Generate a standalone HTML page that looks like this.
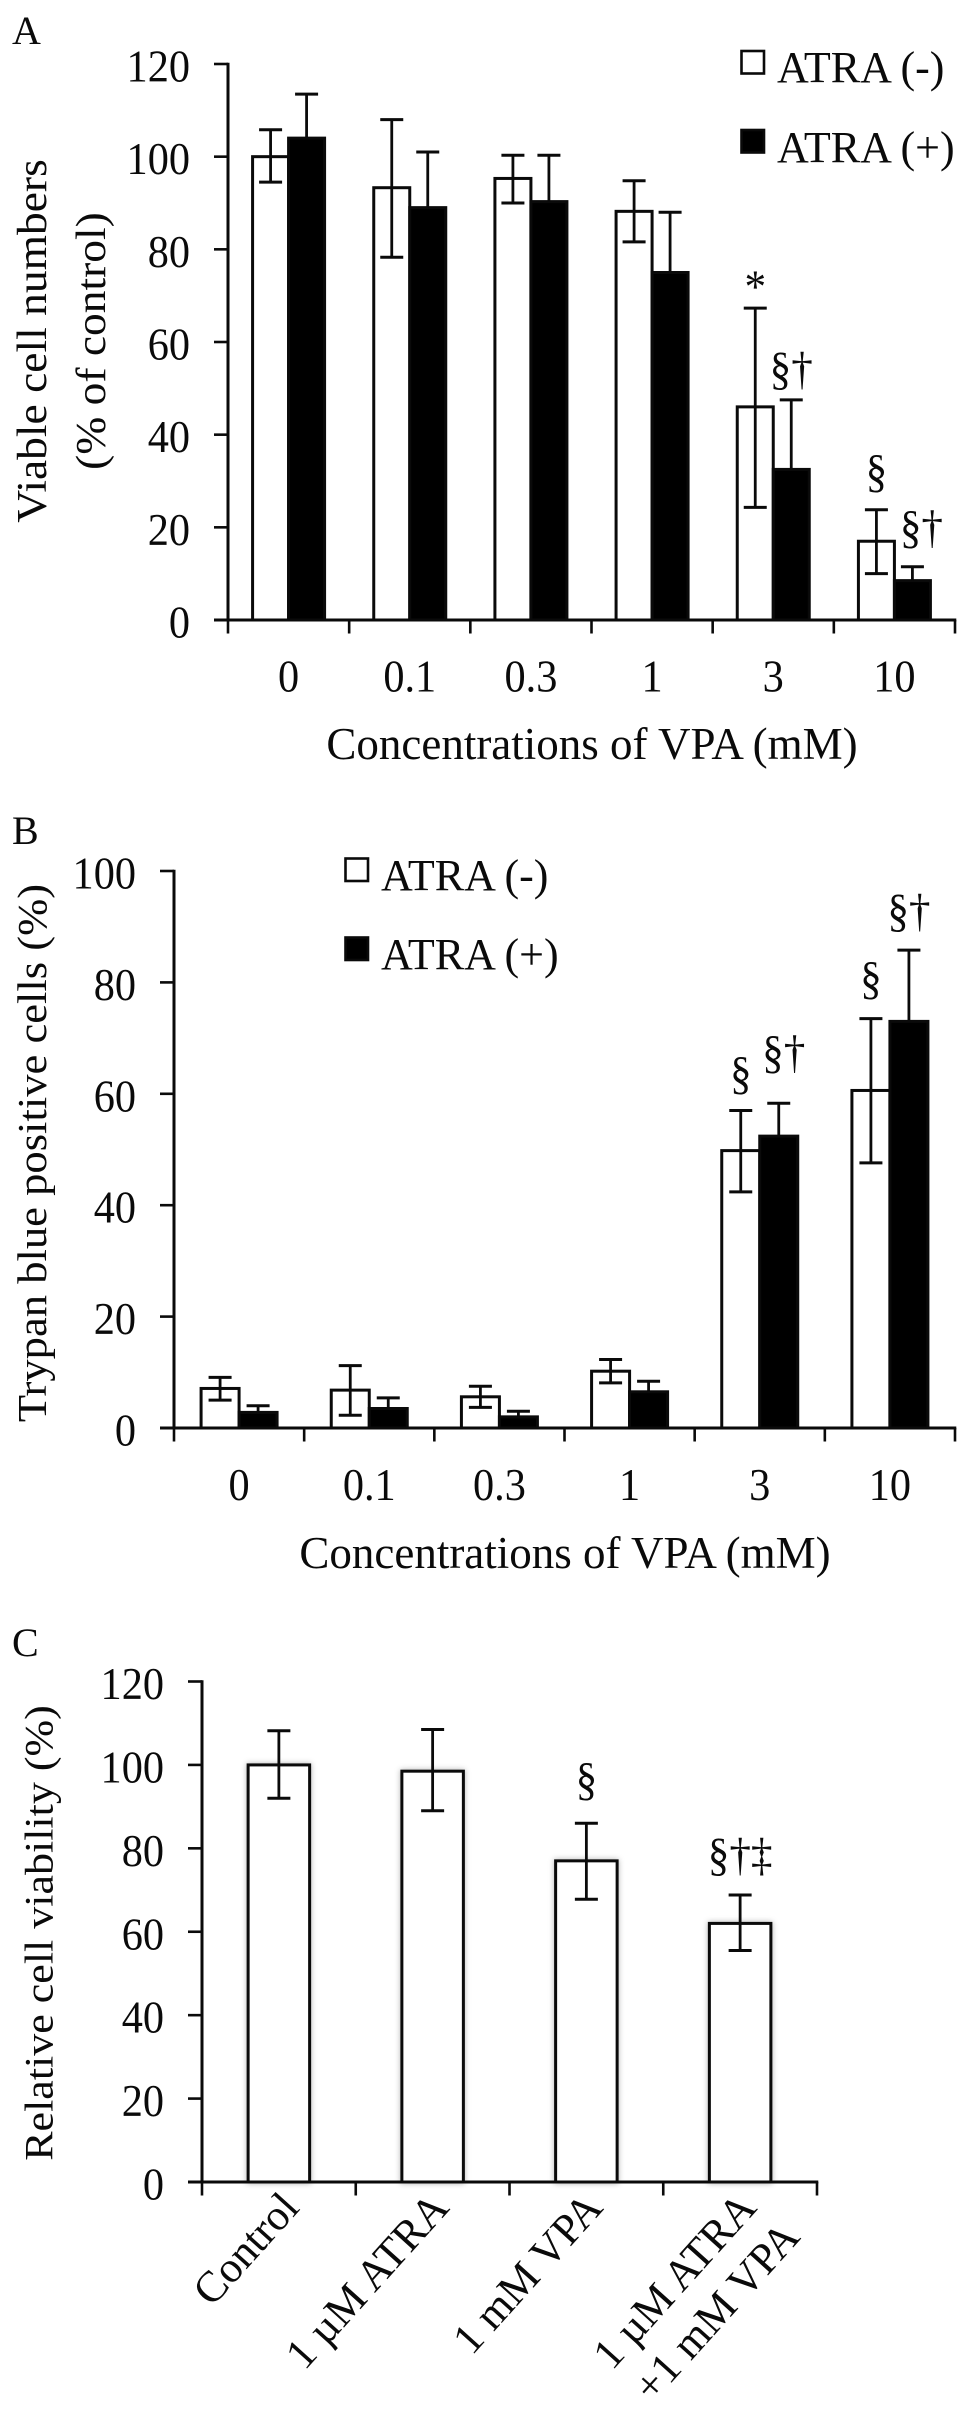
<!DOCTYPE html>
<html><head><meta charset="utf-8"><title>VPA and ATRA cell viability</title>
<style>
html,body{margin:0;padding:0;background:#fff}
svg{display:block;filter:blur(0.35px)}
text{font-family:"Liberation Serif","Times New Roman",serif;fill:#0a0a0a}
</style></head>
<body>
<svg id="fig" width="969" height="2411" viewBox="0 0 969 2411" xmlns="http://www.w3.org/2000/svg"></svg>
<script>
// Panel A data
const concCategories = ["0","0.1","0.3","1","3","10"];
const aTicks = [0,20,40,60,80,100,120];
const aWhite = [100,93.3,95.3,88.2,46,17];
const aWhiteUp = [105.8,108,100.3,94.8,67.3,23.8];
const aWhiteDown = [94.5,78.3,90,81.6,24.3,10];
const aBlack = [104,89,90.3,75,32.5,8.5];
const aBlackUp = [113.5,101,100.3,88,47.5,11.5];
const aWhiteMarks = ["","","","","*","§"];
const aBlackMarks = ["","","","","§†","§†"];
// Panel B data
const bTicks = [0,20,40,60,80,100];
const bWhite = [7.1,6.8,5.6,10.2,49.8,60.6];
const bWhiteUp = [9.1,11.2,7.5,12.3,57,73.5];
const bWhiteDown = [5,2.3,3.7,8.1,42.4,47.6];
const bBlack = [2.8,3.5,2,6.5,52.4,73];
const bBlackUp = [4,5.4,3,8.4,58.3,85.8];
const bWhiteMarks = ["","","","","§","§"];
const bBlackMarks = ["","","","","§†","§†"];
// Panel C data
const cCategories = [["Control"],["1 µM ATRA"],["1 mM VPA"],["1 µM ATRA","+1 mM VPA"]];
const cTicks = [0,20,40,60,80,100,120];
const cValues = [100,98.5,77,62];
const cUp = [108.2,108.5,86,68.8];
const cDown = [92,89,67.8,55.5];
const cMarks = ["","","§","§†‡"];

const NS = "http://www.w3.org/2000/svg";
const root = document.getElementById("fig");
const NARROW = 0.92;
function el(parent, tag, attrs, txt){
  const e = document.createElementNS(NS, tag);
  for (const k in attrs) e.setAttribute(k, attrs[k]);
  if (txt !== undefined) e.textContent = txt;
  parent.appendChild(e);
  return e;
}
function line(p,x1,y1,x2,y2,w,name){
  const l = el(p,"line",{x1,y1,x2,y2,stroke:"#0a0a0a","stroke-width":w});
  
  
  return l;
}
function txt(p,x,y,s,size,anchor,name,transform){
  const attrs = {"font-size":size,"text-anchor":anchor};
  if (transform) attrs.transform = transform; else { attrs.x = x; attrs.y = y; }
  const t = el(p,"text",attrs,s);
  
  
  return t;
}
function narrowNumber(p,x,y,s,name,anchor){
  return txt(p,0,0,s,46,anchor,name,"translate("+x+","+y+") scale("+NARROW+",1)");
}
function vertTitle(p,x,y,s,size,name){
  return txt(p,0,0,s,size,"middle",name,"translate("+x+","+y+") rotate(-90) scale(1,"+NARROW+")");
}
function panel(cfg){
  const g = el(root,"g",{});
  
  
  const n = cfg.groups;
  const groupW = (cfg.x1 - cfg.x0) / n;
  const sx = i => cfg.x0 + groupW * i;
  const sy = v => cfg.y0 + (cfg.yTop - cfg.y0) * v / cfg.yMax;
  // bars
  cfg.series.forEach((s,si)=>{
    s.values.forEach((v,i)=>{
      const start = sx(i) + (groupW - cfg.barW*cfg.series.length)/2 + si*cfg.barW;
      const attrs = {x:start,y:sy(v),width:cfg.barW,height:cfg.y0-sy(v),fill:s.fill,stroke:"#0a0a0a","stroke-width":3};
      if (cfg.shadow) attrs.style = "filter:drop-shadow(0 0 3px rgba(0,0,0,.3))";
      const b = el(g,"rect",attrs);
      
      
    });
  });
  cfg.series.forEach((s,si)=>{
    s.values.forEach((v,i)=>{
      const start = sx(i) + (groupW - cfg.barW*cfg.series.length)/2 + si*cfg.barW;
      const cx = start + cfg.barW/2;
      const lo = s.down ? s.down[i] : v;
      line(g,cx,sy(s.up[i]),cx,sy(lo),2.8,s.key+"-error-"+i);
      const capW = cfg.capW;
      line(g,cx-capW/2,sy(s.up[i]),cx+capW/2,sy(s.up[i]),3,s.key+"-error-cap-top-"+i);
      if(s.down) line(g,cx-capW/2,sy(lo),cx+capW/2,sy(lo),3,s.key+"-error-cap-bottom-"+i);
      const m = s.marks[i];
      if(m){
        const mx = cx+cfg.markShift(si,i), my = sy(s.up[i])-cfg.markGap(si,i);
        txt(g,0,0,m,47,"middle",s.key+"-significance-"+i,"translate("+mx+","+my+") scale(0.92,1)");
      }
    });
  });
  // axes
  line(g,cfg.x0,sy(cfg.yMax)-1.3,cfg.x0,cfg.y0+1,3,"y-axis");
  line(g,cfg.x0-14,cfg.y0,cfg.x1+1.3,cfg.y0,3,"x-axis");
  cfg.ticks.forEach(v=>{
    line(g,cfg.x0-14,sy(v),cfg.x0,sy(v),2.6,"y-tick-"+v);
    narrowNumber(g,cfg.labelRight,sy(v)+17.5,String(v),"y-tick-label-"+v,"end");
  });
  for(let i=0;i<=n;i++) line(g,sx(i),cfg.y0,sx(i),cfg.y0+13.5,2.6,"x-tick-"+i);
  return {g,sx,sy};
}
function legend(p,x,tx,rows){
  rows.forEach(r=>{
    const s = el(p,"rect",{x:x,y:r.y,width:22.5,height:22.5,fill:r.fill,stroke:"#0a0a0a","stroke-width":2.6});
    
    
    txt(p,tx,r.base,r.label,44,"start","legend-entry-"+r.key);
  });
}
// Panel A
const A = panel({name:"panel-a",groups:concCategories.length,x0:228,x1:955,y0:620,yTop:64,yMax:120,ticks:aTicks,
  labelRight:190,barW:36,capW:23,
  markGap:(si,i)=> si===0 ? (i===4 ? 6 : 23) : (i===4 ? 16 : 24),
  markShift:(si,i)=> (si===1 && i===5) ? 9 : 0,
  series:[{key:"atra-minus",fill:"#fff",values:aWhite,up:aWhiteUp,down:aWhiteDown,marks:aWhiteMarks},
          {key:"atra-plus",fill:"#000",values:aBlack,up:aBlackUp,marks:aBlackMarks}]});
concCategories.forEach((c,i)=>narrowNumber(A.g,A.sx(i+0.5),691.5,c,"x-tick-label-"+c,"middle"));
txt(A.g,592,759,"Concentrations of VPA (mM)",45,"middle","x-axis-title");
vertTitle(A.g,46,341,"Viable cell numbers",45.5,"y-axis-title-line-1");
vertTitle(A.g,105,341,"(% of control)",45.5,"y-axis-title-line-2");
txt(A.g,12,44,"A",40,"start","panel-label-a");
legend(A.g,741.5,777,[{y:51,base:82,fill:"#fff",key:"atra-minus",label:"ATRA (-)"},{y:130,base:162,fill:"#000",key:"atra-plus",label:"ATRA (+)"}]);
// Panel B
const B = panel({name:"panel-b",groups:concCategories.length,x0:174,x1:955,y0:1428,yTop:871,yMax:100,ticks:bTicks,
  labelRight:136,barW:38,capW:23,
  markGap:(si,i)=> si===0 ? (i===4 ? 22 : 25) : (i===4 ? 36 : 24),
  markShift:(si,i)=> (si===1 && i===4) ? 5 : 0,
  series:[{key:"atra-minus",fill:"#fff",values:bWhite,up:bWhiteUp,down:bWhiteDown,marks:bWhiteMarks},
          {key:"atra-plus",fill:"#000",values:bBlack,up:bBlackUp,marks:bBlackMarks}]});
concCategories.forEach((c,i)=>narrowNumber(B.g,B.sx(i+0.5),1500,c,"x-tick-label-"+c,"middle"));
txt(B.g,565,1568,"Concentrations of VPA (mM)",45,"middle","x-axis-title");
vertTitle(B.g,46,1153,"Trypan blue positive cells (%)",44.6,"y-axis-title");
txt(B.g,12,844,"B",40,"start","panel-label-b");
legend(B.g,345.5,381,[{y:858.5,base:890,fill:"#fff",key:"atra-minus",label:"ATRA (-)"},{y:937.5,base:969,fill:"#000",key:"atra-plus",label:"ATRA (+)"}]);
// Panel C
const C = panel({name:"panel-c",groups:cCategories.length,x0:202,x1:817,y0:2182,yTop:1681.5,yMax:120,ticks:cTicks,
  labelRight:164,barW:61.5,capW:23,shadow:true,
  markGap:(si,i)=> i===2 ? 29 : 25,
  markShift:(si,i)=> 0,
  series:[{key:"viability",fill:"#fff",values:cValues,up:cUp,down:cDown,marks:cMarks}]});
cCategories.forEach((lines,i)=>{
  const cx = C.sx(i+0.5);
  lines.forEach((s,j)=>{
    const bx = cx + (i===0 ? 22 : 18) + j*43.4, by = 2209 + j*29.3;
    txt(C.g,0,0,s,43.5,"end","x-tick-label-"+i+"-line-"+j,"translate("+bx+","+by+") rotate(-48)");
  });
});
vertTitle(C.g,52.5,1933,"Relative cell viability (%)",44,"y-axis-title");
txt(C.g,12,1656,"C",40,"start","panel-label-c");
</script>
</body></html>
